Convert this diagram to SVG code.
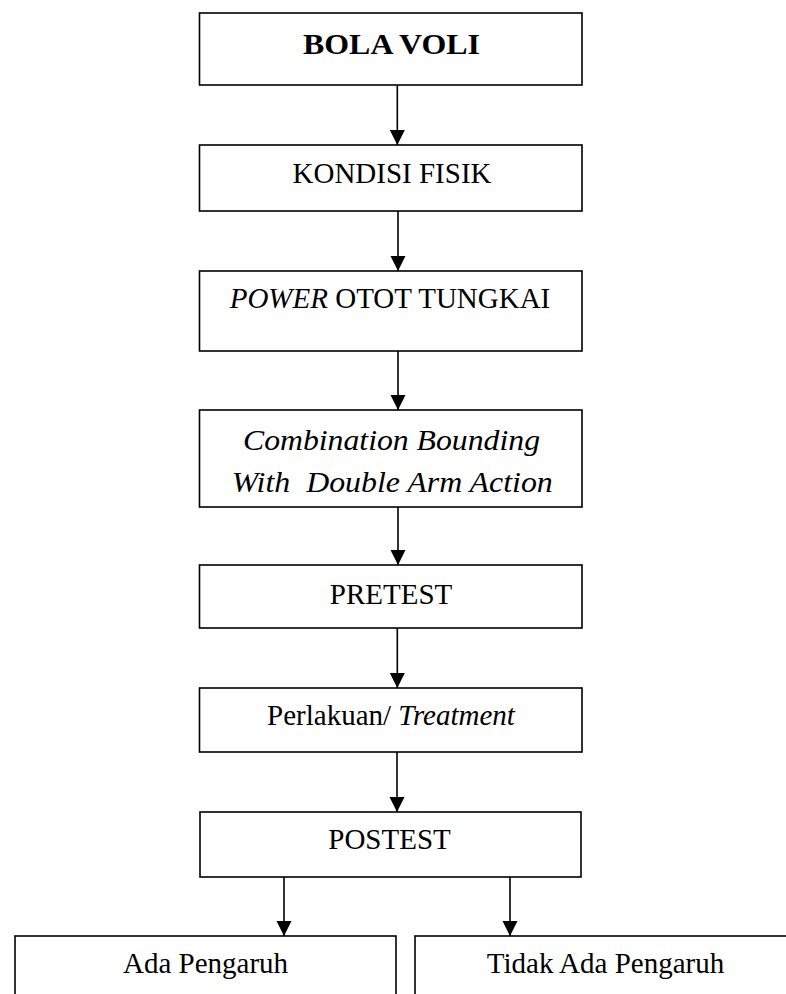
<svg xmlns="http://www.w3.org/2000/svg" width="786" height="994" viewBox="0 0 786 994">
<style>
.box{fill:#fff;stroke:#000;stroke-width:1.6}
.t{font-family:"Liberation Serif","Times New Roman",serif;font-size:29px;fill:#000;text-anchor:middle}
.i{font-style:italic}
.b{font-weight:bold}
.c{stroke:#000;stroke-width:1.6;fill:none;marker-end:url(#ah)}
</style>
<defs>
<marker id="ah" markerUnits="userSpaceOnUse" markerWidth="16" markerHeight="16" viewBox="0 0 16 16" refX="15" refY="8" orient="auto">
<path d="M0,0.5 L15,8 L0,15.5 Z" fill="#000"/>
</marker>
</defs>
<rect width="786" height="994" fill="#fff"/>
<g id="connectors">
<line class="c" x1="397.3" y1="85" x2="397.3" y2="145"/>
<line class="c" x1="398" y1="211" x2="398" y2="271"/>
<line class="c" x1="398" y1="351" x2="398" y2="410"/>
<line class="c" x1="398" y1="507" x2="398" y2="565"/>
<line class="c" x1="397.3" y1="628" x2="397.3" y2="688"/>
<line class="c" x1="397" y1="752" x2="397" y2="812"/>
<line class="c" x1="284" y1="877" x2="284" y2="936"/>
<line class="c" x1="510" y1="877" x2="510" y2="936"/>
</g>
<g id="bola-voli">
<rect class="box" x="199.5" y="13" width="382.5" height="72"/>
<text class="t b" x="391.5" y="54" font-size="30" style="font-size:30px" textLength="177" lengthAdjust="spacingAndGlyphs">BOLA VOLI</text>
</g>
<g id="kondisi-fisik">
<rect class="box" x="199.5" y="145" width="382.5" height="66"/>
<text class="t" x="392" y="183">KONDISI FISIK</text>
</g>
<g id="power">
<rect class="box" x="199.5" y="271" width="382.5" height="80"/>
<text class="t" x="390" y="308.3"><tspan class="i">POWER</tspan> OTOT TUNGKAI</text>
</g>
<g id="combination">
<rect class="box" x="199.5" y="410" width="382.5" height="97"/>
<text class="t i" x="391.5" y="450" textLength="297" lengthAdjust="spacingAndGlyphs">Combination Bounding</text>
<text class="t i" x="392.3" y="491.7" textLength="321" lengthAdjust="spacingAndGlyphs" xml:space="preserve">With  Double Arm Action</text>
</g>
<g id="pretest">
<rect class="box" x="199.5" y="565" width="382.5" height="63"/>
<text class="t" x="391" y="604">PRETEST</text>
</g>
<g id="perlakuan">
<rect class="box" x="199.5" y="688" width="382.5" height="64"/>
<text class="t" x="391" y="725">Perlakuan/ <tspan class="i">Treatment</tspan></text>
</g>
<g id="postest">
<rect class="box" x="200" y="812" width="381" height="65"/>
<text class="t" x="389.5" y="849.3">POSTEST</text>
</g>
<g id="ada-pengaruh">
<rect class="box" x="15" y="936" width="381" height="80"/>
<text class="t" x="205.5" y="973.3">Ada Pengaruh</text>
</g>
<g id="tidak-ada-pengaruh">
<rect class="box" x="415" y="936" width="400" height="80"/>
<text class="t" x="605.5" y="973.3">Tidak Ada Pengaruh</text>
</g>
</svg>
